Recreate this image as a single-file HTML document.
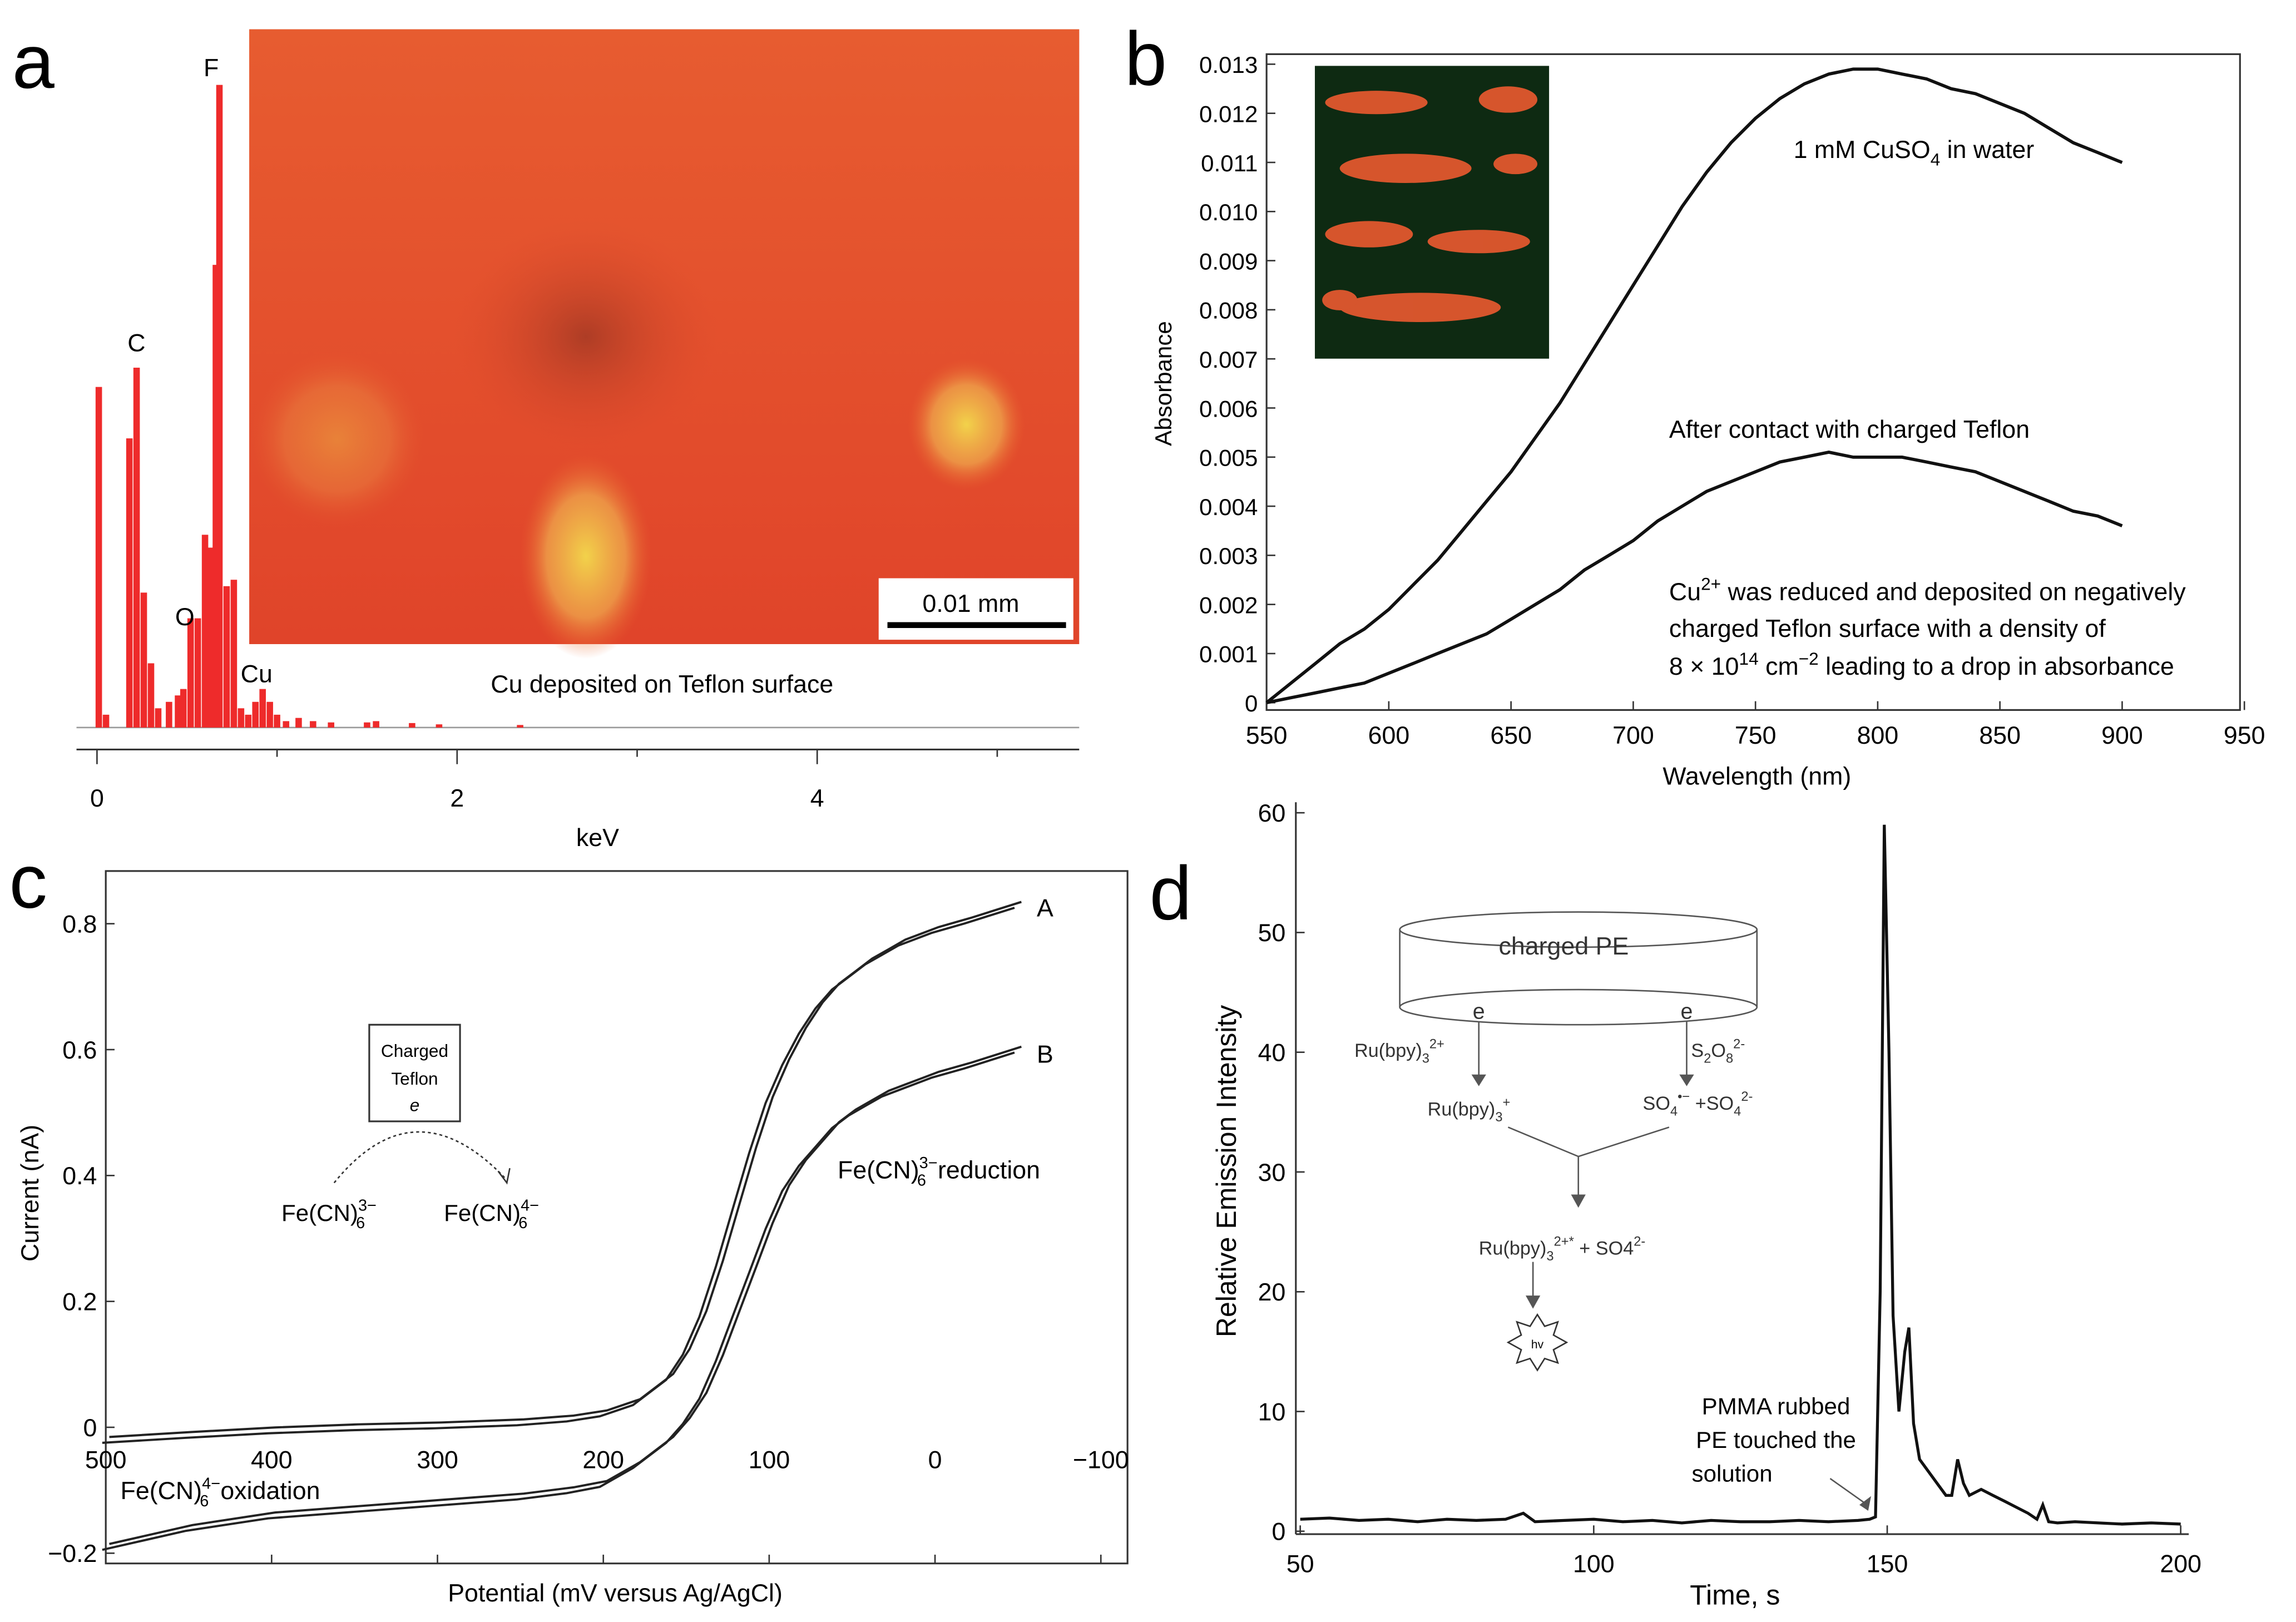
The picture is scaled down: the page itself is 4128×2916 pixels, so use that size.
<!DOCTYPE html>
<html><head><meta charset="utf-8">
<style>
html,body{margin:0;padding:0;background:#fff}
svg{display:block;font-family:"Liberation Sans",Arial,sans-serif}
</style></head>
<body>
<svg id="fig" width="4128" height="2916" viewBox="0 0 1568 1108" xmlns="http://www.w3.org/2000/svg">
<defs>
<radialGradient id="blob1" cx="50%" cy="50%" r="50%"><stop offset="0" stop-color="#f2d24a"/><stop offset="0.6" stop-color="#eea24a" stop-opacity="0.8"/><stop offset="1" stop-color="#e8602e" stop-opacity="0"/></radialGradient>
<radialGradient id="dark1" cx="50%" cy="50%" r="50%"><stop offset="0" stop-color="#8a3020"/><stop offset="1" stop-color="#d8452a" stop-opacity="0"/></radialGradient>
<linearGradient id="topfade" x1="0" y1="0" x2="0" y2="1"><stop offset="0" stop-color="#ee7436" stop-opacity="0.5"/><stop offset="1" stop-color="#ee7436" stop-opacity="0"/></linearGradient>
</defs>

<text x="8" y="60" font-size="52">a</text>
<text x="768" y="58" font-size="52">b</text>
<text x="6" y="620" font-size="52">c</text>
<text x="785" y="628" font-size="52">d</text>

<!-- Panel a -->
<g>
<rect x="170" y="20" width="567" height="420" fill="#e0442a"/>
<rect x="170" y="20" width="567" height="420" fill="url(#topfade)"/>
<ellipse cx="400" cy="230" rx="90" ry="80" fill="url(#dark1)" opacity="0.6"/>
<ellipse cx="400" cy="380" rx="45" ry="70" fill="url(#blob1)"/>
<ellipse cx="660" cy="290" rx="40" ry="45" fill="url(#blob1)"/>
<ellipse cx="230" cy="300" rx="60" ry="60" fill="url(#blob1)" opacity="0.4"/>
<rect x="600" y="395" width="133" height="42" fill="#fff"/>
<text x="663" y="418" font-size="17" text-anchor="middle">0.01 mm</text>
<rect x="606" y="425" width="122" height="4" fill="#000"/>
<line x1="52" y1="497" x2="737" y2="497" stroke="#999" stroke-width="1"/>
<g id="spec"></g>
<text x="93" y="240" font-size="17" text-anchor="middle">C</text>
<text x="144" y="52" font-size="17" text-anchor="middle">F</text>
<text x="126" y="427" font-size="17" text-anchor="middle">O</text>
<text x="175" y="466" font-size="17" text-anchor="middle">Cu</text>
<text x="452" y="473" font-size="17" text-anchor="middle">Cu deposited on Teflon surface</text>
<line x1="52" y1="512" x2="737" y2="512" stroke="#333" stroke-width="1.2"/>
<g id="axa"></g>
<text x="408" y="578" font-size="17" text-anchor="middle">keV</text>
</g>

<!-- Panel b -->
<g>
<rect x="865" y="37" width="665" height="448" fill="none" stroke="#333" stroke-width="1.2"/>
<g id="axb"></g>
<rect x="898" y="45" width="160" height="200" fill="#0e2a12"/>
<g fill="#ec5a30" opacity="0.9">
<ellipse cx="940" cy="70" rx="35" ry="8"/><ellipse cx="1030" cy="68" rx="20" ry="9"/>
<ellipse cx="960" cy="115" rx="45" ry="10"/><ellipse cx="1035" cy="112" rx="15" ry="7"/>
<ellipse cx="935" cy="160" rx="30" ry="9"/><ellipse cx="1010" cy="165" rx="35" ry="8"/>
<ellipse cx="970" cy="210" rx="55" ry="10"/><ellipse cx="915" cy="205" rx="12" ry="7"/>
</g>
<g id="curvesb"></g>
<text x="1225" y="108" font-size="17">1 mM CuSO<tspan font-size="12" dy="5">4</tspan><tspan dy="-5"> in water</tspan></text>
<text x="1140" y="299" font-size="17">After contact with charged Teflon</text>
<text x="1140" y="410" font-size="17">Cu<tspan font-size="12" dy="-7">2+</tspan><tspan dy="7"> was reduced and deposited on negatively</tspan></text>
<text x="1140" y="435" font-size="17">charged Teflon surface with a density of</text>
<text x="1140" y="461" font-size="17">8 × 10<tspan font-size="12" dy="-7">14</tspan><tspan dy="7"> cm</tspan><tspan font-size="12" dy="-7">−2</tspan><tspan dy="7"> leading to a drop in absorbance</tspan></text>
<text x="1200" y="536" font-size="17" text-anchor="middle">Wavelength (nm)</text>
<text transform="translate(800,262) rotate(-90)" font-size="16" text-anchor="middle">Absorbance</text>
</g>

<!-- Panel c -->
<g>
<rect x="72" y="595" width="698" height="473" fill="none" stroke="#333" stroke-width="1.2"/>
<g id="axc"></g>
<g id="curvesc"></g>
<text x="708" y="626" font-size="17">A</text>
<text x="708" y="726" font-size="17">B</text>
<text x="572" y="805" font-size="17">Fe(CN)<tspan font-size="11" dy="-7">3−</tspan><tspan font-size="11" dx="-14" dy="12">6</tspan><tspan dx="8" dy="-5">reduction</tspan></text>
<text x="82" y="1024" font-size="17">Fe(CN)<tspan font-size="11" dy="-7">4−</tspan><tspan font-size="11" dx="-14" dy="12">6</tspan><tspan dx="8" dy="-5">oxidation</tspan></text>
<rect x="252" y="700" width="62" height="66" fill="#fff" stroke="#333" stroke-width="1.2"/>
<text x="283" y="722" font-size="12" text-anchor="middle">Charged</text>
<text x="283" y="741" font-size="12" text-anchor="middle">Teflon</text>
<text x="283" y="759" font-size="12" text-anchor="middle" font-style="italic">e</text>
<path d="M228,808 Q283,740 345,805" fill="none" stroke="#333" stroke-dasharray="2,2"/>
<path d="M340,800 L346,808 L348,798" fill="none" stroke="#333"/>
<text x="192" y="834" font-size="16">Fe(CN)<tspan font-size="11" dy="-7">3−</tspan><tspan font-size="11" dx="-14" dy="12">6</tspan></text>
<text x="303" y="834" font-size="16">Fe(CN)<tspan font-size="11" dy="-7">4−</tspan><tspan font-size="11" dx="-14" dy="12">6</tspan></text>
<text x="420" y="1094" font-size="17" text-anchor="middle">Potential (mV versus Ag/AgCl)</text>
<text transform="translate(26,815) rotate(-90)" font-size="17" text-anchor="middle">Current (nA)</text>
</g>

<!-- Panel d -->
<g>
<line x1="885" y1="548" x2="885" y2="1048" stroke="#333" stroke-width="1.2"/>
<line x1="885" y1="1048" x2="1495" y2="1048" stroke="#333" stroke-width="1.2"/>
<g id="axd"></g>
<g id="curved"></g>
<g stroke="#555" fill="none">
<ellipse cx="1078" cy="635" rx="122" ry="12"/>
<ellipse cx="1078" cy="688" rx="122" ry="12"/>
<line x1="956" y1="635" x2="956" y2="688"/><line x1="1200" y1="635" x2="1200" y2="688"/>
<line x1="1010" y1="698" x2="1010" y2="738"/><line x1="1152" y1="698" x2="1152" y2="738"/>
<line x1="1030" y1="770" x2="1078" y2="790"/><line x1="1140" y1="770" x2="1078" y2="790"/>
<line x1="1078" y1="790" x2="1078" y2="818"/><line x1="1047" y1="862" x2="1047" y2="888"/>
</g>
<g fill="#555">
<path d="M1005,734 L1015,734 L1010,742Z"/><path d="M1147,734 L1157,734 L1152,742Z"/>
<path d="M1073,816 L1083,816 L1078,825Z"/><path d="M1042,885 L1052,885 L1047,894Z"/>
<path d="M1270,1028 L1278,1022 L1276,1032Z"/>
</g>
<line x1="1250" y1="1010" x2="1274" y2="1027" stroke="#555"/>
<polygon points="1050,898 1055,906 1064,903 1061,912 1070,917 1061,922 1064,931 1055,928 1050,936 1045,928 1036,931 1039,922 1030,917 1039,912 1036,903 1045,906" fill="#fff" stroke="#333"/>
<text x="1050" y="921" font-size="8" text-anchor="middle">hv</text>
<text x="1068" y="652" font-size="17" text-anchor="middle" fill="#333">charged PE</text>
<text x="1010" y="696" font-size="15" text-anchor="middle" fill="#333">e</text>
<text x="1152" y="696" font-size="15" text-anchor="middle" fill="#333">e</text>
<text x="925" y="722" font-size="13" fill="#333">Ru(bpy)<tspan font-size="9" dy="4">3</tspan><tspan font-size="9" dy="-10">2+</tspan></text>
<text x="1155" y="722" font-size="13" fill="#333">S<tspan font-size="9" dy="4">2</tspan><tspan dy="-4">O</tspan><tspan font-size="9" dy="4">8</tspan><tspan font-size="9" dy="-10">2-</tspan></text>
<text x="975" y="762" font-size="13" fill="#333">Ru(bpy)<tspan font-size="9" dy="4">3</tspan><tspan font-size="9" dy="-10">+</tspan></text>
<text x="1122" y="758" font-size="13" fill="#333">SO<tspan font-size="9" dy="4">4</tspan><tspan font-size="9" dy="-10">•−</tspan><tspan dy="6"> +SO</tspan><tspan font-size="9" dy="4">4</tspan><tspan font-size="9" dy="-10">2-</tspan></text>
<text x="1010" y="857" font-size="13" fill="#333">Ru(bpy)<tspan font-size="9" dy="4">3</tspan><tspan font-size="9" dy="-10">2+*</tspan><tspan dy="6"> + SO4</tspan><tspan font-size="9" dy="-6">2-</tspan></text>
<text x="1213" y="966" font-size="16" text-anchor="middle">PMMA rubbed</text>
<text x="1213" y="989" font-size="16" text-anchor="middle">PE touched the</text>
<text x="1183" y="1012" font-size="16" text-anchor="middle">solution</text>
<text x="1185" y="1096" font-size="19" text-anchor="middle">Time, s</text>
<text transform="translate(844,800) rotate(-90)" font-size="19" text-anchor="middle">Relative Emission Intensity</text>
</g>
</svg>
<script>
const edxKeV = [0.01,0.05,0.18,0.22,0.26,0.30,0.34,0.40,0.45,0.48,0.52,0.56,0.60,0.63,0.66,0.68,0.72,0.76,0.80,0.84,0.88,0.92,0.96,1.0,1.05,1.12,1.2,1.3,1.5,1.55,1.75,1.9,2.35];
const edxCounts = [0.53,0.02,0.45,0.56,0.21,0.1,0.03,0.04,0.05,0.06,0.17,0.17,0.3,0.28,0.72,1.0,0.22,0.23,0.03,0.02,0.04,0.06,0.04,0.02,0.01,0.015,0.01,0.008,0.008,0.01,0.007,0.005,0.004];
const aTicks = [0,2,4];
const bWave = [550,560,570,580,590,600,610,620,630,640,650,660,670,680,690,700,710,720,730,740,750,760,770,780,790,800,810,820,830,840,850,860,870,880,890,900];
const bCuSO4 = [0,0.0004,0.0008,0.0012,0.0015,0.0019,0.0024,0.0029,0.0035,0.0041,0.0047,0.0054,0.0061,0.0069,0.0077,0.0085,0.0093,0.0101,0.0108,0.0114,0.0119,0.0123,0.0126,0.0128,0.0129,0.0129,0.0128,0.0127,0.0125,0.0124,0.0122,0.0120,0.0117,0.0114,0.0112,0.0110];
const bAfter = [0,0.0001,0.0002,0.0003,0.0004,0.0006,0.0008,0.0010,0.0012,0.0014,0.0017,0.0020,0.0023,0.0027,0.0030,0.0033,0.0037,0.0040,0.0043,0.0045,0.0047,0.0049,0.0050,0.0051,0.0050,0.0050,0.0050,0.0049,0.0048,0.0047,0.0045,0.0043,0.0041,0.0039,0.0038,0.0036];
const bXTicks = [550,600,650,700,750,800,850,900,950];
const bYTicks = [0,0.001,0.002,0.003,0.004,0.005,0.006,0.007,0.008,0.009,0.010,0.011,0.012,0.013];
const cPot = [500,450,400,350,300,250,220,200,180,160,150,140,130,120,110,100,90,80,70,60,50,40,30,20,10,0,-20,-50];
const cCurA = [-0.02,-0.012,-0.005,0.0,0.003,0.008,0.014,0.022,0.04,0.08,0.12,0.18,0.26,0.35,0.44,0.52,0.58,0.63,0.67,0.7,0.72,0.74,0.755,0.77,0.78,0.79,0.805,0.83];
const cCurB = [-0.19,-0.16,-0.14,-0.13,-0.12,-0.11,-0.10,-0.09,-0.06,-0.02,0.01,0.05,0.11,0.18,0.25,0.32,0.38,0.42,0.45,0.48,0.5,0.515,0.53,0.54,0.55,0.56,0.575,0.6];
const cXTicks = [500,400,300,200,100,0,-100];
const cXLabels = ["500","400","300","200","100","0","−100"];
const cYTicks = [-0.2,0,0.2,0.4,0.6,0.8];
const cYLabels = ["−0.2","0","0.2","0.4","0.6","0.8"];
const dTime = [50,55,60,65,70,75,80,85,88,90,95,100,105,110,115,120,125,130,135,140,145,147,148,148.8,149.5,150.3,151,152,153,153.7,154.5,155.5,157,158.5,160,161,162,163,164,166,168,170,172,174,175.5,176.5,177.5,179,182,186,190,195,200];
const dInt = [1.0,1.1,0.9,1.0,0.8,1.0,0.9,1.0,1.5,0.8,0.9,1.0,0.8,0.9,0.7,0.9,0.8,0.8,0.9,0.8,0.9,1.0,1.2,20,59,40,18,10,15,17,9,6,5,4,3,3,6,4,3,3.5,3,2.5,2,1.5,1.0,2.2,0.8,0.7,0.8,0.7,0.6,0.7,0.6];
const dXTicks = [50,100,150,200];
const dYTicks = [0,10,20,30,40,50,60];

const NS="http://www.w3.org/2000/svg";
function mk(parent,tag,attrs){const e=document.createElementNS(NS,tag);for(const k in attrs)e.setAttribute(k,attrs[k]);parent.appendChild(e);return e;}
function txt(parent,x,y,s,size,anchor){const t=mk(parent,'text',{x:x,y:y,'font-size':size,'text-anchor':anchor});t.textContent=s;return t;}

const ax = k=>66+k*123, ay = v=>497-v*439;
const bx = w=>865+(w-550)*1.67, by = v=>480-v*33550;
const cx = p=>72+(500-p)*1.133, cy = v=>975-v*430;
const dx = t=>888+(t-50)*4.01, dy = v=>1046-v*8.18;

const spec=document.getElementById('spec');
edxKeV.forEach((k,i)=>{
  const r=mk(spec,'rect',{x:ax(k)-2.2,y:ay(edxCounts[i]),width:4.4,height:497-ay(edxCounts[i]),fill:'#ee2b2b'});
  
  
});
const axa=document.getElementById('axa');
aTicks.forEach(k=>{mk(axa,'line',{x1:ax(k),y1:512,x2:ax(k),y2:522,stroke:'#333'});const t=txt(axa,ax(k),551,String(k),17,'middle');
  
  });
[1,3,5].forEach(k=>mk(axa,'line',{x1:ax(k),y1:512,x2:ax(k),y2:517,stroke:'#333'}));

function pathFrom(xs,ys,fx,fy){return xs.map((v,i)=>(i?'L':'M')+fx(v).toFixed(1)+','+fy(ys[i]).toFixed(1)).join(' ');}
const axb=document.getElementById('axb');
bXTicks.forEach(w=>{mk(axb,'line',{x1:bx(w),y1:485,x2:bx(w),y2:479,stroke:'#333'});const t=txt(axb,bx(w),508,String(w),17,'middle');
  
  });
bYTicks.forEach(v=>{mk(axb,'line',{x1:865,y1:by(v),x2:871,y2:by(v),stroke:'#333'});const t=txt(axb,859,by(v)+6,v===0?'0':v.toFixed(3),16,'end');
  
  });
const cb=document.getElementById('curvesb');
const p1=mk(cb,'path',{d:pathFrom(bWave,bCuSO4,bx,by),fill:'none',stroke:'#111','stroke-width':2.2});


const p2=mk(cb,'path',{d:pathFrom(bWave,bAfter,bx,by),fill:'none',stroke:'#111','stroke-width':2.2});



const axc=document.getElementById('axc');
cXTicks.forEach((p,i)=>{mk(axc,'line',{x1:cx(p),y1:1068,x2:cx(p),y2:1062,stroke:'#333'});const t=txt(axc,cx(p),1003,cXLabels[i],17,'middle');
  
  });
cYTicks.forEach((v,i)=>{mk(axc,'line',{x1:72,y1:cy(v),x2:78,y2:cy(v),stroke:'#333'});const t=txt(axc,66,cy(v)+6,cYLabels[i],17,'end');
  
  });
const cc=document.getElementById('curvesc');
[[cCurA,'curve-a'],[cCurB,'curve-b']].forEach(([ys,n])=>{
  [-4,4].forEach(off=>{
    const p=mk(cc,'path',{d:pathFrom(cPot,ys,v=>cx(v)+off*0.6,v=>cy(v)-off*0.5),fill:'none',stroke:'#222','stroke-width':1.5});
    
    
  });
});

const axd=document.getElementById('axd');
dXTicks.forEach(t0=>{mk(axd,'line',{x1:dx(t0),y1:1048,x2:dx(t0),y2:1042,stroke:'#333'});const t=txt(axd,dx(t0),1074,String(t0),17,'middle');
  
  });
dYTicks.forEach(v=>{mk(axd,'line',{x1:885,y1:dy(v),x2:891,y2:dy(v),stroke:'#333'});const t=txt(axd,878,dy(v)+6,String(v),17,'end');
  
  });
const pd=mk(document.getElementById('curved'),'path',{d:pathFrom(dTime,dInt,dx,dy),fill:'none',stroke:'#111','stroke-width':2});


</script>
</body></html>
